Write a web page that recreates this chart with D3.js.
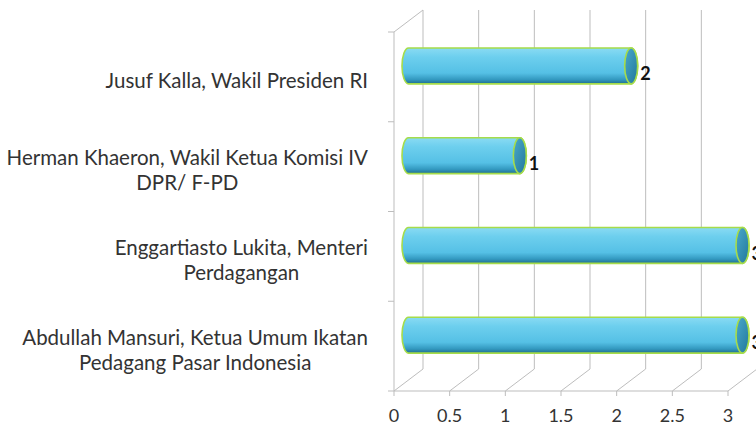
<!DOCTYPE html>
<html><head><meta charset="utf-8">
<script src="https://cdn.jsdelivr.net/npm/d3@7"></script>
<style>html,body{margin:0;padding:0;background:#fff;}svg{display:block;}</style>
</head><body>
<svg id="chart" width="756" height="431"></svg>
<script>
const categories = ["Jusuf Kalla, Wakil Presiden RI","Herman Khaeron, Wakil Ketua Komisi IV DPR/ F-PD","Enggartiasto Lukita, Menteri Perdagangan","Abdullah Mansuri, Ketua Umum Ikatan Pedagang Pasar Indonesia"];
const labelLines = [["Jusuf Kalla, Wakil Presiden RI"],["Herman Khaeron, Wakil Ketua Komisi IV","DPR/ F-PD"],["Enggartiasto Lukita, Menteri","Perdagangan"],["Abdullah Mansuri, Ketua Umum Ikatan","Pedagang Pasar Indonesia"]];
const values = [2,1,3,3];
const ticks = [0,0.5,1,1.5,2,2.5,3];
const tickLabels = ["0","0.5","1","1.5","2","2.5","3"];

(function(){
const svg = d3.select("#chart");
const font = "Lato, 'Open Sans', sans-serif";
const x = d3.scaleLinear().domain([0,3]).range([394,728]);
const y = d3.scaleBand().domain(categories).range([32,391]);
const dx = 29, dy = -22;
const yTop = 32, yBot = 391;
const grid = "#bdbdbd";

const defs = svg.append("defs");
const g1 = defs.append("linearGradient").attr("id","body").attr("x1",0).attr("y1",0).attr("x2",0).attr("y2",1);
[[0,"#8adbf3"],[0.25,"#6dcfee"],[0.7,"#55c0e5"],[0.88,"#3399c0"],[1,"#1f6e8f"]].forEach(s=>g1.append("stop").attr("offset",s[0]).attr("stop-color",s[1]));
const g2 = defs.append("linearGradient").attr("id","cap").attr("x1",0).attr("y1",0).attr("x2",1).attr("y2",1);
[[0,"#4aa9cc"],[1,"#22789b"]].forEach(s=>g2.append("stop").attr("offset",s[0]).attr("stop-color",s[1]));

svg.append("g").selectAll("line").data(ticks).join("line")
  .attr("x1",d=>x(d)+dx).attr("x2",d=>x(d)+dx)
  .attr("y1",yTop+dy).attr("y2",yBot+dy)
  .attr("stroke",grid).attr("stroke-width",1);
svg.append("g").selectAll("line").data(ticks).join("line")
  .attr("x1",d=>x(d)).attr("x2",d=>x(d)+dx)
  .attr("y1",yBot).attr("y2",yBot+dy)
  .attr("stroke",grid).attr("stroke-width",1);
svg.append("line").attr("x1",x(0)).attr("y1",yTop).attr("x2",x(0)+dx).attr("y2",yTop+dy).attr("stroke",grid);
svg.append("line").attr("x1",x(0)).attr("y1",yTop).attr("x2",x(0)).attr("y2",yBot).attr("stroke",grid);
svg.append("line").attr("x1",x(0)).attr("y1",yBot).attr("x2",x(3)).attr("y2",yBot).attr("stroke",grid);
const bounds = categories.map(c=>y(c)+y.bandwidth()).concat([y(categories[0])]);
svg.append("g").selectAll("line").data(bounds).join("line")
  .attr("x1",x(0)-6).attr("x2",x(0)).attr("y1",d=>d).attr("y2",d=>d).attr("stroke",grid);
svg.append("g").selectAll("line").data(ticks).join("line")
  .attr("x1",d=>x(d)).attr("x2",d=>x(d)).attr("y1",yBot).attr("y2",yBot+5).attr("stroke",grid);

svg.append("g").selectAll("text").data(ticks).join("text")
  .attr("x",d=>x(d)).attr("y",422).attr("text-anchor","middle")
  .attr("font-family",font).attr("font-size",18).attr("fill","#333")
  .text((d,i)=>tickLabels[i]);

const lab = svg.append("g");
categories.forEach((c,i)=>{
  const lines = labelLines[i];
  const cy = y(c)+y.bandwidth()/2 + 4;
  const lh = 25;
  const t = lab.append("text").attr("font-family",font).attr("font-size",20.5).attr("fill","#333");
  const spans = lines.map((ln,j)=> t.append("tspan").attr("x",368).attr("text-anchor","end")
      .attr("y", cy - (lines.length-1)*lh/2 + j*lh).attr("dy","0.35em").text(ln));
  if(spans.length>1){
    const w0 = spans[0].node().getComputedTextLength();
    spans.slice(1).forEach(s=>s.attr("x",368 - w0/2).attr("text-anchor","middle"));
  }
});

const rx = 6.5;
const ry = y.bandwidth()*0.2;
const bars = svg.append("g");
categories.forEach((c,i)=>{
  const cy = y(c)+y.bandwidth()/2 + dy/2;
  const x0 = x(0)+dx/2, x1 = x(values[i])+dx/2;
  bars.append("path")
    .attr("d",`M${x0},${cy-ry} L${x1},${cy-ry} A${rx},${ry} 0 0 1 ${x1},${cy+ry} L${x0},${cy+ry} A${rx},${ry} 0 0 1 ${x0},${cy-ry} Z`)
    .attr("fill","url(#body)").attr("stroke","#a6dc4a").attr("stroke-width",1.6);
  bars.append("ellipse").attr("cx",x1).attr("cy",cy).attr("rx",rx).attr("ry",ry)
    .attr("fill","url(#cap)").attr("stroke","#a6dc4a").attr("stroke-width",1.6);
  bars.append("text").attr("x",x1+9).attr("y",cy+8).attr("dy","0.35em")
    .attr("font-family",font).attr("font-weight","bold").attr("font-size",18).attr("fill","#111")
    .text(values[i]);
});
})();
</script>
</body></html>
